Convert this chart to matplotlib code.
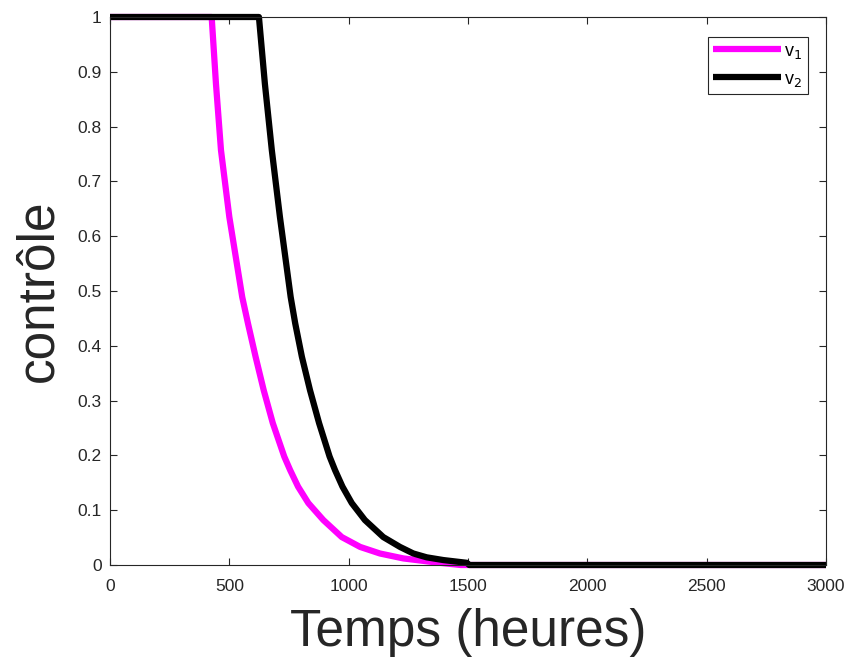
import matplotlib
matplotlib.use("Agg")
import matplotlib.pyplot as plt

plt.rcParams['font.family'] = ['Liberation Sans', 'DejaVu Sans']

# Data
t_v1 = [0, 426, 444, 465, 500, 554, 578, 610, 644, 682, 730, 755, 788,
        831, 894, 971, 1048, 1131, 1229, 1341, 1425, 1470, 3000]
v1 = [1, 1, 0.878, 0.757, 0.635, 0.489, 0.441, 0.380, 0.319, 0.259, 0.198, 0.173, 0.143,
      0.113, 0.082, 0.051, 0.033, 0.021, 0.012, 0.006, 0.002, 0.0, 0.0]

t_v2 = [0, 624, 649, 678, 712, 757, 776, 804, 838, 876, 920, 943, 974,
        1013, 1068, 1145, 1215, 1271, 1327, 1397, 1495, 1505, 3000]
v2 = [1, 1, 0.878, 0.757, 0.635, 0.489, 0.441, 0.380, 0.319, 0.259, 0.198, 0.173, 0.143,
      0.113, 0.082, 0.051, 0.033, 0.021, 0.014, 0.009, 0.004, 0.0, 0.0]

labels = ['v$_1$', 'v$_2$']
xticks = [0, 500, 1000, 1500, 2000, 2500, 3000]
yticks = [0, 0.1, 0.2, 0.3, 0.4, 0.5, 0.6, 0.7, 0.8, 0.9, 1]
yticklabels = ['0', '0.1', '0.2', '0.3', '0.4', '0.5', '0.6', '0.7', '0.8', '0.9', '1']

fig = plt.figure(figsize=(8.53, 6.64), dpi=100)
ax = fig.add_axes([110/853, 1 - 565/664, (826 - 110)/853, (565 - 17)/664])

ax.plot(t_v1, v1, color='#FF00FF', lw=4.5, label=labels[0], clip_on=False,
        solid_joinstyle='round', solid_capstyle='butt')
ax.plot(t_v2, v2, color='black', lw=4.5, label=labels[1], clip_on=False,
        solid_joinstyle='round', solid_capstyle='butt')

ax.set_xlim(0, 3000)
ax.set_ylim(0, 1)
ax.set_xticks(xticks)
ax.set_yticks(yticks)
ax.set_yticklabels(yticklabels)

gray = '#262626'
for s in ax.spines.values():
    s.set_color(gray)
    s.set_linewidth(0.8)
ax.tick_params(direction='in', length=5, width=0.8, color=gray,
               labelcolor=gray, labelsize=12.5, top=True, right=True)
ax.tick_params(axis='x', pad=10)
ax.tick_params(axis='y', pad=6)

ax.set_xlabel('Temps (heures)', fontsize=37, color=gray, labelpad=10)
ax.set_ylabel('contrôle', fontsize=37, color=gray, labelpad=10)

leg = ax.legend(loc='upper right', bbox_to_anchor=((808 - 110)/716, (565 - 37)/548),
                borderaxespad=0, fontsize=13, handlelength=3.75, handletextpad=0.17,
                labelspacing=0.55, borderpad=0.32, fancybox=False, framealpha=1)
leg.get_frame().set_edgecolor(gray)
leg.get_frame().set_linewidth(0.8)

fig.savefig('out.png', dpi=100)
